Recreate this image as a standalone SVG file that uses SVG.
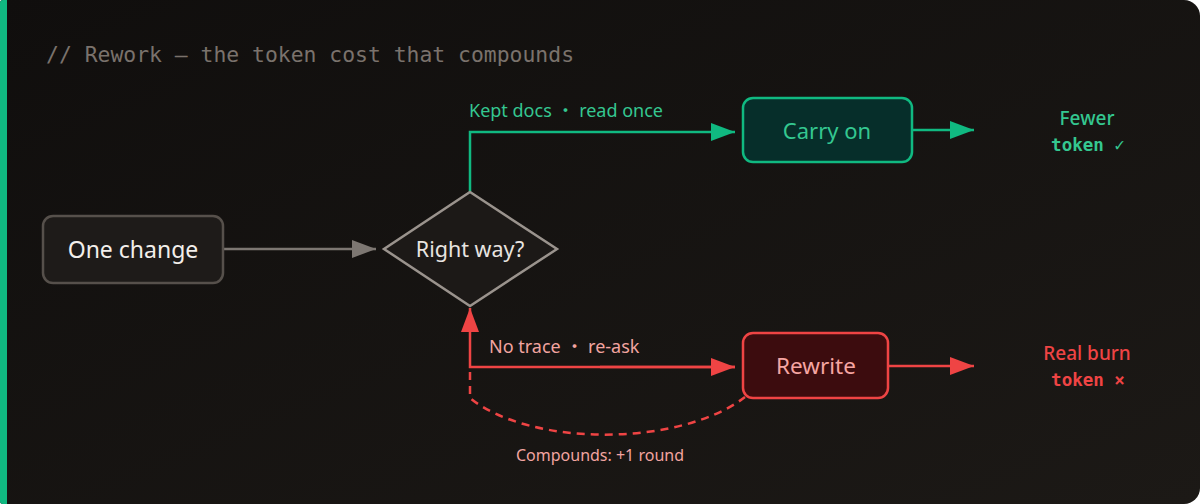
<svg xmlns="http://www.w3.org/2000/svg" width="1200" height="504" viewBox="0 0 1200 504">
<defs>
<linearGradient id="bg" x1="0" y1="0" x2="1" y2="1">
<stop offset="0" stop-color="#100e0d"/>
<stop offset="1" stop-color="#1c1916"/>
</linearGradient>
<marker id="agr" viewBox="0 0 24 18" refX="24" refY="9" markerWidth="24" markerHeight="18" markerUnits="userSpaceOnUse" orient="auto"><path d="M0,0 L24,9 L0,18 Z" fill="#7d7772"/></marker>
<marker id="agn" viewBox="0 0 24 18" refX="24" refY="9" markerWidth="24" markerHeight="18" markerUnits="userSpaceOnUse" orient="auto"><path d="M0,0 L24,9 L0,18 Z" fill="#10b981"/></marker>
<marker id="ard" viewBox="0 0 24 18" refX="24" refY="9" markerWidth="24" markerHeight="18" markerUnits="userSpaceOnUse" orient="auto"><path d="M0,0 L24,9 L0,18 Z" fill="#ef4444"/></marker>
</defs>
<style>
.sans{font-family:"Noto Sans","Liberation Sans",sans-serif}
.mono{font-family:"DejaVu Sans Mono","Liberation Mono",monospace}
.cjk{font-family:"Noto Sans CJK SC",sans-serif}
.node{stroke-width:2.5}
.lbl{font-size:18px}
</style>
<rect width="1200" height="504" fill="#ffffff"/>
<path d="M3,0 H1184 A16,16 0 0 1 1200,16 V488 A16,16 0 0 1 1184,504 H3 A3,3 0 0 1 0,501 V3 A3,3 0 0 1 3,0 Z" fill="url(#bg)"/>
<path d="M3,0 H7 V504 H3 A3,3 0 0 1 0,501 V3 A3,3 0 0 1 3,0 Z" fill="#10b981"/>
<text x="46" y="62" class="mono" font-size="21.4" fill="#7a726c">// Rework — the token cost that compounds</text>

<g id="connectors" fill="none" stroke-width="2.5">
<path d="M223,249 H376" stroke="#7d7772" marker-end="url(#agr)"/>
<path d="M470,192 V132 H735" stroke="#10b981" marker-end="url(#agn)"/>
<path d="M912,130 H974" stroke="#10b981" marker-end="url(#agn)"/>
<path d="M735,367 H470 V308" stroke="#ef4444" marker-end="url(#ard)"/>
<path d="M600,367 H735" stroke="#ef4444" marker-end="url(#ard)"/>
<path d="M888,366 H974" stroke="#ef4444" marker-end="url(#ard)"/>
<path d="M470,372 L470,398 C530,447 680,447 745,397" stroke="#ef4444" stroke-dasharray="8 6"/>
<text x="469" y="117" class="sans lbl" fill="#34c790" stroke="none">Kept docs <tspan class="cjk">·</tspan> read once</text>
<text x="489" y="353" class="sans lbl" fill="#f2a4a0" stroke="none">No trace <tspan class="cjk">·</tspan> re-ask</text>
<text x="600" y="461" class="sans" font-size="16" text-anchor="middle" fill="#f2a4a0" stroke="none">Compounds: +1 round</text>
</g>

<g id="one-change">
<rect x="43" y="216" width="180" height="67" rx="10" fill="#1e1b19" stroke="#56504b" class="node"/>
<text x="133" y="257.5" class="sans" font-size="23" text-anchor="middle" fill="#f3efeb">One change</text>
</g>
<g id="right-way">
<path d="M470,192 L557,249 L470,306 L384,249 Z" fill="#1c1917" stroke="#9a938d" class="node"/>
<text x="470" y="256.5" class="sans" font-size="21.5" text-anchor="middle" fill="#e8e4e0">Right way?</text>
</g>
<g id="carry-on">
<rect x="743" y="98" width="169" height="64" rx="10" fill="#062e2a" stroke="#10b981" class="node"/>
<text x="827" y="138.5" class="sans" font-size="22" text-anchor="middle" fill="#34c790">Carry on</text>
</g>
<g id="rewrite">
<rect x="743" y="333" width="145" height="65" rx="10" fill="#3c0c0e" stroke="#ef4444" class="node"/>
<text x="816" y="373.5" class="sans" font-size="22.5" text-anchor="middle" fill="#f6a5a2">Rewrite</text>
</g>
<g id="fewer-token">
<text x="1087" y="125" class="sans" font-size="19" font-weight="500" text-anchor="middle" fill="#34c790">Fewer</text>
<text x="1088" y="151" class="mono" font-size="17.5" font-weight="bold" text-anchor="middle" fill="#34c790">token ✓</text>
</g>
<g id="real-burn">
<text x="1087" y="360" class="sans" font-size="19" font-weight="500" text-anchor="middle" fill="#ef4444">Real burn</text>
<text x="1088" y="386" class="mono" font-size="17.5" font-weight="bold" text-anchor="middle" fill="#ef4444">token ×</text>
</g>
</svg>
